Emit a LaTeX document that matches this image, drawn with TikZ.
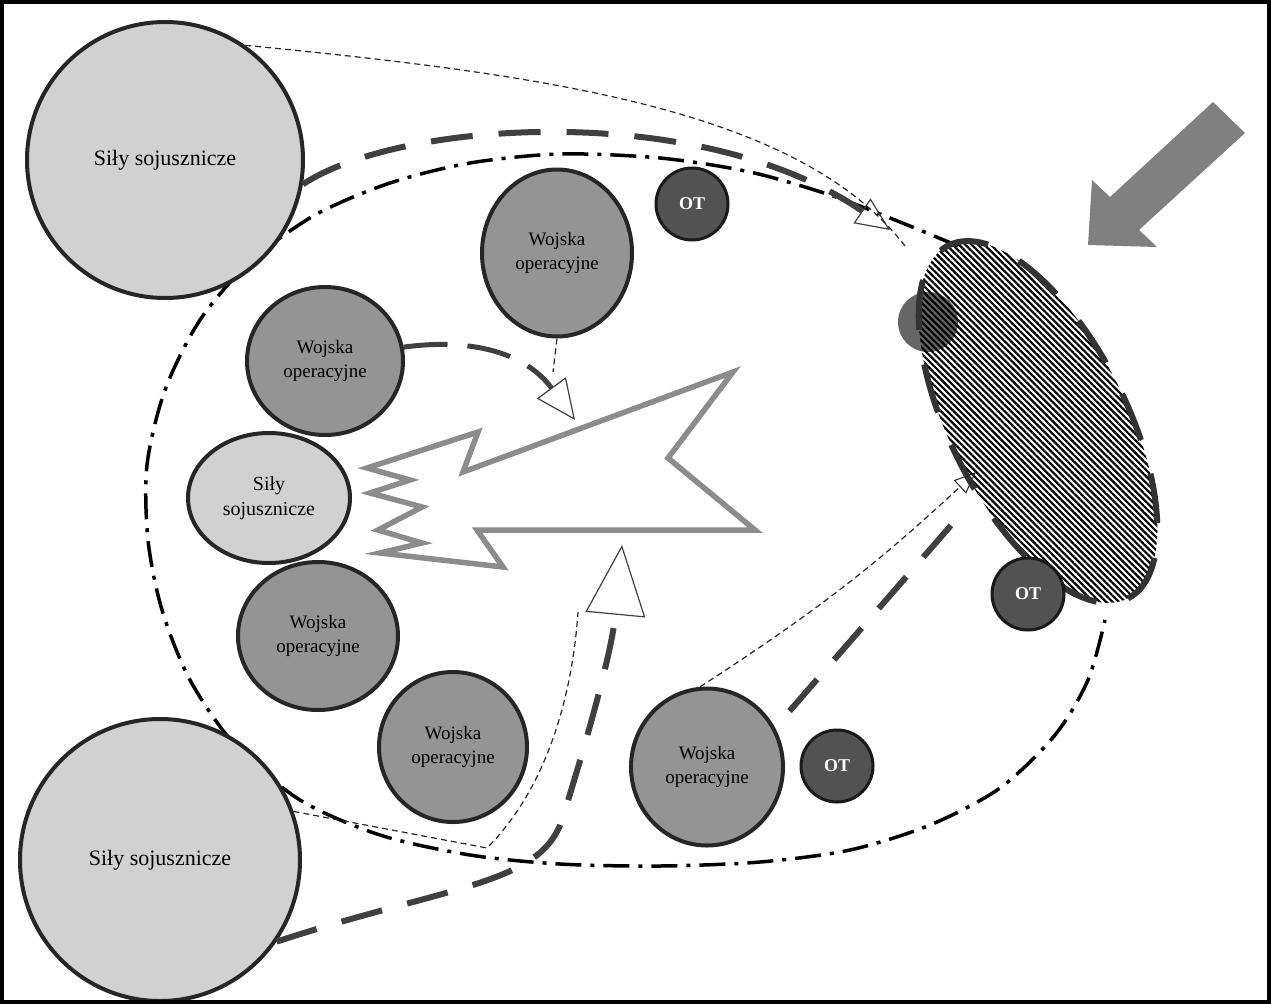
\documentclass[tikz,border=0pt]{standalone}
\usepackage{fontspec}
\setmainfont{Liberation Serif}
\usetikzlibrary{shapes.geometric, arrows.meta, positioning, calc, patterns.meta}

\tikzset{
  allied/.style={ellipse, draw=black!85, line width=4pt, fill=black!18, inner sep=0pt, align=center, font=\fontsize{22}{26}\selectfont},
  ops/.style={ellipse, draw=black!85, line width=4pt, fill=black!42, inner sep=0pt, align=center, font=\fontsize{19}{24}\selectfont},
  ot/.style={circle, draw=black!90, line width=3pt, fill=black!68, minimum size=72pt, inner sep=0pt, text=white, font=\fontsize{18}{20}\selectfont\bfseries},
  heavydash/.style={line width=6pt, black!75, dash pattern=on 42pt off 26pt},
  lightdash/.style={line width=1.2pt, black!85, dash pattern=on 6pt off 4pt},
  zone/.style={line width=3.5pt, dash pattern=on 26pt off 9pt on 4pt off 9pt},
}

\begin{document}
\begin{tikzpicture}[x=1pt, y=-1pt]
\useasboundingbox (0,0) rectangle (1271,1004);

% Zone of the operation
\draw[zone] plot[smooth] coordinates {(958,246) (900,222) (830,195) (750,172) (660,158) (560,154) (470,163) (390,183) (315,215) (250,262) (200,320) (165,390) (147,465) (148,540) (162,610) (190,680) (235,745) (300,800) (380,835) (470,855) (560,864) (660,866) (760,862) (850,850) (930,825) (1000,788) (1055,735) (1088,680) (1105,620)};

% Enemy grouping
\fill[black!60] (928,322) circle (30);
\node[ellipse, minimum width=396, minimum height=176, rotate=-63,
      pattern={Lines[angle=-45, distance=4.5pt, line width=2.2pt]}, pattern color=black,
      draw=black!80, line width=6pt, dash pattern=on 50pt off 35pt] (enemy) at (1038,422) {};

% Strike direction
\fill[black!50] (1213,102) -- (1245,133) -- (1139,230) -- (1157,247) -- (1088,245)
  -- (1092,180) -- (1110,197) -- cycle;

% Lightning (main effort)
\draw[line width=5.5pt, black!45, fill=white, line join=miter] (733,372) -- (668,458) -- (755,530)
  -- (477,530) -- (503,567) -- (380,553) -- (422,543) -- (378,530) -- (422,507) -- (370,493)
  -- (410,480) -- (367,468) -- (478,432) -- (463,472) -- cycle;

% Forces
\node[allied, minimum width=276, minimum height=276] (alliedTop) at (165,160) {Siły sojusznicze};
\node[allied, minimum width=280, minimum height=282] (alliedBot) at (160,860) {Siły sojusznicze};
\node[allied, minimum width=162, minimum height=130, font=\fontsize{20}{25}\selectfont] (alliedMid) at (269,498) {Siły\\sojusznicze};

\node[ops, minimum width=150, minimum height=167] (opsTop) at (557,253) {Wojska\\operacyjne};
\node[ops, minimum width=156, minimum height=148] (opsLeft) at (325,361) {Wojska\\operacyjne};
\node[ops, minimum width=160, minimum height=148] (opsLow) at (318,636) {Wojska\\operacyjne};
\node[ops, minimum width=148, minimum height=150] (opsBot) at (453,747) {Wojska\\operacyjne};
\node[ops, minimum width=152, minimum height=157] (opsRight) at (707,767) {Wojska\\operacyjne};

\node[ot] (otTop) at (692,204) {OT};
\node[ot] (otRight) at (1028,594) {OT};
\node[ot] (otBot) at (837,766) {OT};

% Thrusts
\coordinate (tipTop) at (890,230);
\coordinate (endTop) at (905,246);
\draw[heavydash, -{Triangle[open, length=34pt, width=30pt, line width=1.2pt]}]
  (alliedTop.-10) .. controls (400,120) and (700,100) .. (tipTop);
\draw[lightdash] (alliedTop.55) .. controls (550,75) and (800,110) .. (endTop);

\coordinate (tipBot) at (622,545);
\coordinate (bendBot) at (487,848);
\draw[heavydash, -{Triangle[open, length=70pt, width=60pt, line width=1.2pt]}]
  (alliedBot.-35) .. controls (450,885) and (540,885) .. (562,820)
  .. controls (590,730) and (612,650) .. (tipBot);
\draw[lightdash] (alliedBot.20) -- (bendBot) .. controls (545,790) and (572,700) .. (578,612);

\coordinate (tipRight) at (960,515);
\coordinate (endRight) at (976,472);
\draw[heavydash, shorten <=22pt] (opsRight.30) -- (tipRight);
\draw[lightdash, -{Triangle[open, length=22pt, width=18pt, line width=1pt]}]
  (opsRight.95) to[bend right=5] (endRight);

\coordinate (tipMid) at (575,420);
\draw[heavydash, line width=5pt, dash pattern=on 44pt off 20pt, -{Triangle[open, length=40pt, width=36pt, line width=1.2pt]}]
  (opsLeft.10) .. controls (470,338) and (525,352) .. (tipMid);
\draw[lightdash] (opsTop.south) -- (553,372);

% Frame
\draw[line width=4pt] (2,2) rectangle (1269,1002);
\end{tikzpicture}
\end{document}
